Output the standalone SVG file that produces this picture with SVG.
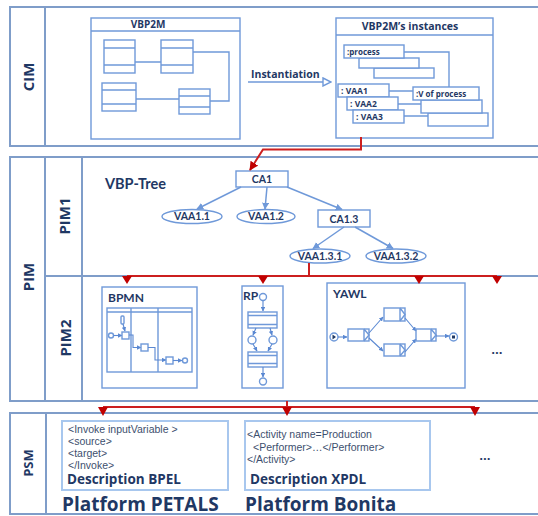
<svg xmlns="http://www.w3.org/2000/svg" width="538" height="516" viewBox="0 0 538 516">
  <defs>
    <style>
      .frame { fill: none; stroke: #7f9dc9; stroke-width: 2; }
      .box { fill: #ffffff; stroke: #6f99d9; stroke-width: 1.4; }
      .ln { fill: none; stroke: #6f99d9; stroke-width: 1.4; }
      .tree { fill: none; stroke: #6f99d9; stroke-width: 1.5; marker-end: url(#blueHead); }
      .flow { fill: none; stroke: #5a88d2; stroke-width: 1.1; marker-end: url(#smallHead); }
      .red { fill: none; stroke: #cc1f1f; stroke-width: 2; }
      .redtip { fill: #c00000; }
      .layer { font-family: Lato, "Open Sans", sans-serif; font-weight: bold; fill: #1f3864; }
      .heavy { font-family: "Open Sans", Lato, sans-serif; font-weight: bold; fill: #1f3864; }
      .title { font-family: "Open Sans", Lato, sans-serif; font-weight: bold; fill: #1f3864; }
      .node { font-family: Lato, "Open Sans", sans-serif; font-weight: bold; fill: #1f3864; font-size: 10.5px; text-anchor: middle; }
      .code { font-family: "Liberation Sans", Arial, sans-serif; fill: #3d4f6e; font-size: 10.5px; }
      .psm { fill: #ffffff; stroke: #a8c7ee; stroke-width: 2; }
    </style>
    <marker id="blueHead" viewBox="0 0 10 10" refX="9" refY="5" markerWidth="7" markerHeight="7" markerUnits="userSpaceOnUse" orient="auto">
      <path d="M0,0 L10,5 L0,10 z" fill="#6f99d9"/>
    </marker>
    <marker id="smallHead" viewBox="0 0 10 10" refX="9" refY="5" markerWidth="4.5" markerHeight="4.5" markerUnits="userSpaceOnUse" orient="auto">
      <path d="M0,0 L10,5 L0,10 z" fill="#5a88d2"/>
    </marker>
    <marker id="redHead" viewBox="0 0 10 10" refX="9" refY="5" markerWidth="9" markerHeight="9" markerUnits="userSpaceOnUse" orient="auto">
      <path d="M0,0 L10,5 L0,10 z" fill="#c00000"/>
    </marker>
    <marker id="openHead" viewBox="0 0 10 10" refX="9" refY="5" markerWidth="10" markerHeight="10" markerUnits="userSpaceOnUse" orient="auto">
      <path d="M1,1 L9,5 L1,9 z" fill="#ffffff" stroke="#6f99d9" stroke-width="1.4"/>
    </marker>
  </defs>

  <rect width="538" height="516" fill="#ffffff"/>

  <!-- ===== Layer frames ===== -->
  <g id="layer-cim">
    <path class="frame" d="M540,7 H10 V146 H540 M45,7 V146"/>
    <text class="heavy" font-size="15" text-anchor="middle" transform="translate(34,77) rotate(-90)">CIM</text>
  </g>
  <g id="layer-pim">
    <path class="frame" d="M540,157 H10 V401 H540 M45,157 V401 M82,157 V401 M45,276 H540"/>
    <text class="heavy" font-size="15" text-anchor="middle" transform="translate(34,277) rotate(-90)">PIM</text>
    <text class="heavy" font-size="15" text-anchor="middle" transform="translate(70,216) rotate(-90)">PIM1</text>
    <text class="heavy" font-size="15" text-anchor="middle" transform="translate(71,338) rotate(-90)">PIM2</text>
  </g>
  <g id="layer-psm">
    <path class="frame" d="M540,413 H10 V514 H540 M46,413 V514"/>
    <text class="heavy" font-size="13" text-anchor="middle" transform="translate(33,463) rotate(-90)">PSM</text>
  </g>

  <!-- ===== CIM: metamodel ===== -->
  <g id="vbp2m">
    <rect class="box" x="91" y="18" width="149" height="121"/>
    <line class="ln" x1="91" y1="31" x2="240" y2="31"/>
    <text class="title" x="148" y="28" font-size="10" text-anchor="middle">VBP2M</text>
    <path class="ln" d="M135,62 H161 M136,99 H179 M193,52 H229 V101 H210"/>
    <rect class="box" x="104" y="40" width="31" height="33"/>
    <path class="ln" d="M104,48 H135 M104,65 H135"/>
    <rect class="box" x="161" y="40" width="32" height="33"/>
    <path class="ln" d="M161,48 H193 M161,65 H193"/>
    <rect class="box" x="102" y="83" width="34" height="28"/>
    <path class="ln" d="M102,90 H136 M102,104 H136"/>
    <rect class="box" x="179" y="89" width="31" height="25"/>
    <path class="ln" d="M179,96 H210 M179,107 H210"/>
  </g>

  <!-- ===== CIM: instances ===== -->
  <g id="vbp2m-instances">
    <rect class="box" x="336" y="18" width="157" height="120"/>
    <line class="ln" x1="336" y1="35" x2="493" y2="35"/>
    <text class="title" x="410" y="30" font-size="10.5" text-anchor="middle">VBP2M’s instances</text>
    <path class="ln" d="M404,52 H449 V87 M389,91 H413 M398,104 H421 M404,116 H428"/>
    <rect class="box" x="374" y="68" width="60" height="10"/>
    <rect class="box" x="359" y="58" width="60" height="10"/>
    <rect class="box" x="344" y="45" width="60" height="13"/>
    <text class="title" x="347" y="55" font-size="8">:process</text>
    <rect class="box" x="428" y="113" width="60" height="13"/>
    <rect class="box" x="421" y="100" width="61" height="13"/>
    <rect class="box" x="413" y="87" width="66" height="13"/>
    <text class="title" x="416" y="97" font-size="8">:V of process</text>
    <rect class="box" x="338" y="84" width="51" height="13"/>
    <text class="title" x="341" y="94" font-size="8.5">: VAA1</text>
    <rect class="box" x="347" y="97" width="51" height="13"/>
    <text class="title" x="350" y="107" font-size="8.5">: VAA2</text>
    <rect class="box" x="353" y="110" width="51" height="13"/>
    <text class="title" x="356" y="120" font-size="8.5">: VAA3</text>
  </g>

  <!-- ===== PIM1: tree ===== -->
  <text class="layer" x="105" y="189" font-size="14.5">VBP-Tree</text>
  <g id="ca1">
    <rect class="box" x="236" y="171" width="52" height="16"/>
    <text class="node" x="262" y="183">CA1</text>
  </g>
  <g id="vaa1-1">
    <ellipse class="box" cx="192" cy="216.5" rx="30" ry="7"/>
    <text class="node" x="192" y="220.3">VAA1.1</text>
  </g>
  <g id="vaa1-2">
    <ellipse class="box" cx="266" cy="216.5" rx="29" ry="7"/>
    <text class="node" x="266" y="220.3">VAA1.2</text>
  </g>
  <g id="ca1-3">
    <rect class="box" x="318" y="210" width="52" height="17"/>
    <text class="node" x="344" y="222.5">CA1.3</text>
  </g>
  <g id="vaa1-3-1">
    <ellipse class="box" cx="320" cy="256" rx="30" ry="7"/>
    <text class="node" x="320" y="259.8">VAA1.3.1</text>
  </g>
  <g id="vaa1-3-2">
    <ellipse class="box" cx="396" cy="256" rx="30" ry="7"/>
    <text class="node" x="396" y="259.8">VAA1.3.2</text>
  </g>

  <!-- ===== PIM2: process models ===== -->
  <g id="bpmn">
    <rect class="box" x="102" y="287" width="95" height="101"/>
    <text class="layer" x="108" y="302" font-size="12">BPMN</text>
    <rect class="ln" x="107" y="308" width="85" height="64"/>
    <path class="ln" d="M107,312 H192 M131,308 V372 M158,308 V372"/>
    <rect class="ln" x="121" y="316" width="3" height="8" rx="1"/>
    <path class="flow" d="M123,324 L125,331"/>
    <circle class="ln" cx="111" cy="335.5" r="2.5"/>
    <path class="flow" d="M113.5,335.5 H122"/>
    <rect class="ln" x="122" y="332" width="7" height="7"/>
    <path class="flow" d="M129,335 H133 V347.5 H141"/>
    <rect class="ln" x="141" y="344" width="7" height="7"/>
    <path class="flow" d="M148,347.5 H155 V360 H166"/>
    <rect class="ln" x="166" y="357" width="7" height="7"/>
    <path class="flow" d="M173,360.5 H182"/>
    <circle class="ln" cx="185" cy="360.5" r="2.5"/>
  </g>
  <g id="rp">
    <rect class="box" x="242" y="286" width="41" height="102"/>
    <text class="layer" x="243" y="300" font-size="12">RP</text>
    <circle class="ln" cx="263" cy="297" r="3.5"/>
    <path class="flow" d="M263,300.5 V311"/>
    <rect class="ln" x="248" y="312" width="29" height="16"/>
    <path class="ln" d="M248,315.5 H277 M248,324.5 H277"/>
    <path class="flow" d="M256,328 L253,335"/>
    <path class="flow" d="M270,328 L272,335"/>
    <circle class="ln" cx="252" cy="340" r="4"/>
    <circle class="ln" cx="273" cy="340" r="4"/>
    <path class="flow" d="M253,344 L257,351"/>
    <path class="flow" d="M272,344 L268,351"/>
    <rect class="ln" x="248" y="352" width="29" height="15"/>
    <path class="ln" d="M248,355.5 H277 M248,363.5 H277"/>
    <path class="flow" d="M263,367 V377"/>
    <circle class="ln" cx="263" cy="381.5" r="3.5"/>
  </g>
  <g id="yawl">
    <rect class="box" x="327" y="283" width="138" height="105"/>
    <text class="layer" x="333" y="298" font-size="12">YAWL</text>
    <circle class="ln" cx="334" cy="337" r="4"/>
    <path d="M332.5,334.5 L336,337 L332.5,339.5 z" fill="#1f3864"/>
    <path class="flow" d="M338,337 H347"/>
    <rect class="ln" x="348" y="329" width="21" height="12"/>
    <path class="ln" d="M364,329 V341 M364,329 L369,335 L364,341"/>
    <path class="flow" d="M369,333 L383,317"/>
    <path class="flow" d="M369,338 L383,351"/>
    <rect class="ln" x="384" y="308" width="21" height="13"/>
    <path class="ln" d="M400,308 V321 M400,308 L405,314.5 L400,321"/>
    <rect class="ln" x="384" y="344" width="21" height="12"/>
    <path class="ln" d="M400,344 V356 M400,344 L405,350 L400,356"/>
    <path class="flow" d="M405,318 L416,331"/>
    <path class="flow" d="M405,352 L416,339"/>
    <rect class="ln" x="416" y="329" width="20" height="12"/>
    <path class="ln" d="M431,329 V341 M431,329 L436,335 L431,341"/>
    <path class="flow" d="M436,336 H449"/>
    <circle class="ln" cx="453.5" cy="337" r="4"/>
    <rect x="452" y="335.5" width="3" height="3" fill="#1f3864"/>
  </g>
  <text class="layer" x="497" y="354" font-size="14" text-anchor="middle">…</text>

  <!-- ===== PSM: executable descriptions ===== -->
  <g id="bpel">
    <rect class="psm" x="62" y="421" width="166" height="69"/>
    <text class="code" x="68" y="433">&lt;Invoke inputVariable &gt;</text>
    <text class="code" x="68" y="445">&lt;source&gt;</text>
    <text class="code" x="68" y="457">&lt;target&gt;</text>
    <text class="code" x="68" y="469">&lt;/Invoke&gt;</text>
    <text class="heavy" x="67" y="484" font-size="13.5">Description BPEL</text>
    <text class="heavy" x="62" y="510.5" font-size="19">Platform PETALS</text>
  </g>
  <g id="xpdl">
    <rect class="psm" x="245" y="421" width="185" height="69"/>
    <text class="code" x="247" y="438">&lt;Activity name=Production</text>
    <text class="code" x="253" y="450.5">&lt;Performer&gt;…&lt;/Performer&gt;</text>
    <text class="code" x="247" y="463">&lt;/Activity&gt;</text>
    <text class="heavy" x="250" y="484" font-size="13.5">Description XPDL</text>
    <text class="heavy" x="245" y="510.5" font-size="19">Platform Bonita</text>
  </g>
  <text class="layer" x="485" y="460" font-size="14" text-anchor="middle">…</text>

  <!-- ===== Connectors ===== -->
  <g id="connectors">
    <path d="M248,82 H331" fill="none" stroke="#6f99d9" stroke-width="1.4" marker-end="url(#openHead)"/>
    <text class="title" x="251" y="78" font-size="10.5">Instantiation</text>

    <path class="red" d="M361,137 V149.5 H263 L250,170" marker-end="url(#redHead)"/>

    <path class="tree" d="M241,187 L197,209"/>
    <path class="tree" d="M267,187 L265,209"/>
    <path class="tree" d="M287,187 L342,209.5"/>
    <path class="tree" d="M344,227 L313,248.5"/>
    <path class="tree" d="M355,227 L393,248.5"/>

    <path class="red" d="M309,263 V276 M127,276 H497"/>
    <polygon class="redtip" points="122,276 132,276 127,284"/>
    <polygon class="redtip" points="258,276 268,276 263,284"/>
    <polygon class="redtip" points="414,276 424,276 419,284"/>
    <polygon class="redtip" points="492,276 502,276 497,284"/>

    <path class="red" d="M287,401 V407 M103,407 H475"/>
    <polygon class="redtip" points="98,407 108,407 103,416"/>
    <polygon class="redtip" points="282,407 292,407 287,416"/>
    <polygon class="redtip" points="470,407 480,407 475,416"/>
  </g>
</svg>
